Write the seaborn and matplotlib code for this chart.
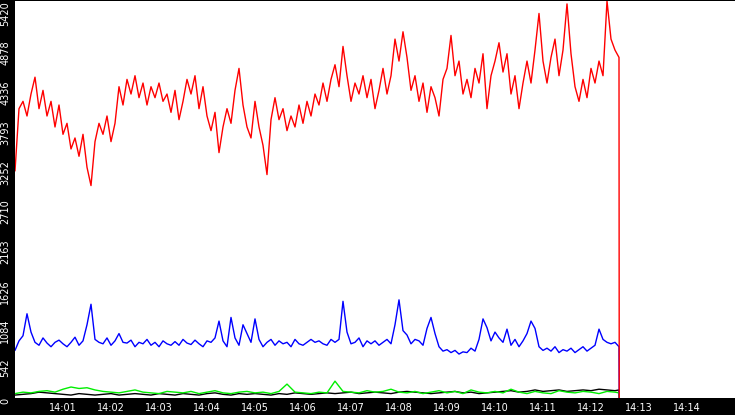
import numpy as np
import pandas as pd
import matplotlib
matplotlib.use("Agg")
import matplotlib.pyplot as plt
import matplotlib.dates as mdates
import seaborn as sns

sns.set_style("white")
plt.rcParams['font.family'] = ['DejaVu Sans']

red = [3100,3950,4050,3850,4150,4380,3950,4200,3850,4050,
       3700,4000,3600,3750,3400,3550,3300,3600,3150,2900,
       3500,3750,3600,3850,3500,3750,4250,4000,4350,4150,
       4400,4100,4300,4000,4250,4100,4300,4050,4150,3900,
       4200,3800,4050,4350,4150,4400,3950,4250,3850,3650,
       3900,3350,3700,3950,3750,4200,4500,4000,3700,3550,
       4050,3700,3450,3050,3800,4100,3800,3950,3650,3850,
       3700,4000,3750,4050,3850,4150,4000,4300,4050,4350,
       4550,4250,4800,4400,4050,4300,4150,4400,4100,4350,
       3950,4200,4500,4150,4400,4900,4600,5000,4650,4200,
       4400,4050,4300,3900,4250,4100,3850,4350,4500,4950,
       4400,4600,4150,4350,4100,4500,4300,4700,3950,4400,
       4600,4850,4450,4700,4150,4400,3950,4300,4600,4300,
       4750,5250,4600,4300,4650,4900,4400,4750,5380,4700,
       4250,4050,4350,4100,4500,4300,4600,4400,5420,4900,
       4750,4650,0]
blue = [650,780,850,1150,900,760,720,820,750,700,
        760,790,740,700,760,830,720,780,1000,1280,
        800,760,740,820,720,780,880,760,750,790,
        700,760,740,800,720,760,700,780,740,720,
        770,720,800,750,730,790,740,700,780,760,
        820,1050,780,700,1100,820,720,1000,880,760,
        1080,800,700,760,800,720,780,740,760,700,
        800,740,720,760,800,760,780,740,720,800,
        760,800,1320,900,740,760,820,700,780,740,
        780,720,760,800,740,1000,1340,920,860,740,
        800,780,720,950,1100,880,700,640,660,620,
        650,600,630,620,680,640,800,1080,960,780,
        900,820,760,940,720,800,700,780,880,1050,
        950,700,650,680,640,700,620,660,640,680,
        620,660,700,640,680,720,940,800,760,740,
        760,700,0]
green = [60,80,70,90,100,80,120,150,130,140,
         110,90,80,70,90,110,80,70,60,90,
         80,70,90,60,80,100,70,60,80,90,
         70,80,60,90,190,80,70,60,80,70,
         230,90,80,70,100,80,90,120,80,70,
         90,60,80,100,70,90,60,110,80,70,
         90,70,120,80,60,90,70,60,100,80,
         70,90,80,60,90,80,70,0]
black = [40,50,60,80,70,60,50,40,60,50,
         40,50,60,40,50,60,50,40,60,50,
         40,60,50,40,60,70,50,40,60,50,
         60,50,40,60,50,70,60,50,60,70,
         60,70,80,60,70,80,70,60,80,90,
         80,70,60,70,80,90,70,80,60,70,
         80,90,100,80,90,110,90,100,110,90,
         100,110,100,120,110,100,110,0]

t0 = pd.Timestamp("2024-01-01 14:00:00")
t_fine = [t0 + pd.Timedelta(seconds=5*i) for i in range(len(red)-1)]
t_fine.append(t_fine[-1] + pd.Timedelta(milliseconds=300))
t_coarse = [t0 + pd.Timedelta(seconds=10*i) for i in range(len(green)-1)]
t_coarse[-1] = t_fine[-1] - pd.Timedelta(milliseconds=300)
t_coarse.append(t_fine[-1])

yticks = [0,542,1084,1626,2168,2710,3252,3794,4336,4878,5420]
ylabels = ["0","542","1084","1626","2163","2710","3252","3793","4336","4878","5420"]
xtick_labels = ["14:%02d" % m for m in range(1, 15)]

fig = plt.figure(figsize=(7.35, 4.15), dpi=100, facecolor="black")
ax = fig.add_axes([15/735, 17/415, 720/735, 397/415])
ax.set_facecolor("white")

sns.lineplot(x=t_coarse, y=black, color="black", lw=1, ax=ax)
sns.lineplot(x=t_coarse, y=green, color="#00ee00", lw=1, ax=ax)
sns.lineplot(x=t_fine, y=blue, color="#0000ff", lw=1, ax=ax)
sns.lineplot(x=t_fine, y=red, color="#ff0000", lw=1, ax=ax)

ax.set_xlim(t0, t0 + pd.Timedelta(minutes=15))
ax.set_ylim(0, 5420)
ax.set_xticks([t0 + pd.Timedelta(minutes=m) for m in range(1, 15)])
ax.set_xticklabels(xtick_labels)
ax.set_yticks(yticks)
ax.set_yticklabels(ylabels, rotation=90, va="top")
ax.tick_params(axis="both", colors="white", labelcolor="white", labelsize=7,
               length=3, width=1, direction="out", pad=0.5)
for s in ax.spines.values():
    s.set_visible(False)

fig.savefig("out.png", dpi=100, facecolor="black")
